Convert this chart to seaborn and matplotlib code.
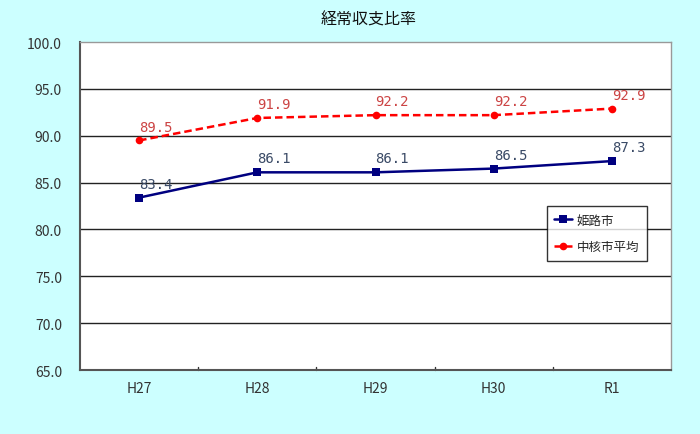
import matplotlib
matplotlib.use("Agg")
import matplotlib.pyplot as plt
import seaborn as sns
import pandas as pd

categories = ["H27", "H28", "H29", "H30", "R1"]
himeji = [83.4, 86.1, 86.1, 86.5, 87.3]
chukaku = [89.5, 91.9, 92.2, 92.2, 92.9]
series_names = ["姫路市", "中核市平均"]
yticks = [65.0, 70.0, 75.0, 80.0, 85.0, 90.0, 95.0, 100.0]

sns.set_theme(style="white")
plt.rcParams['font.family'] = ['Noto Sans CJK JP', 'DejaVu Sans']

df = pd.DataFrame({
    "year": categories * 2,
    "value": himeji + chukaku,
    "series": [series_names[0]] * 5 + [series_names[1]] * 5,
})
df["x"] = list(range(5)) * 2

bg = "#CCFFFF"
fig = plt.figure(figsize=(7, 4.35), dpi=100, facecolor=bg)
ax = fig.add_axes([0.1143, 0.147, 0.8443, 0.754])
ax.set_facecolor("white")

palette = {series_names[0]: "#000080", series_names[1]: "#FF0000"}
sns.lineplot(data=df, x="x", y="value", hue="series", style="series",
             palette=palette, markers={series_names[0]: "s", series_names[1]: "o"},
             dashes={series_names[0]: "", series_names[1]: (3, 1.6)},
             linewidth=1.8, markersize=5.5, markeredgewidth=0, ax=ax)

ax.set_xlim(-0.5, 4.5)
ax.set_ylim(65, 100)
ax.set_yticks(yticks)
ax.set_yticklabels([f"{v:.1f}" for v in yticks], fontsize=10, color="#333333")
ax.set_xticks(range(5))
ax.set_xticklabels(categories, fontsize=10, color="#333333")
ax.tick_params(axis="y", length=0, pad=13)
ax.tick_params(axis="x", length=0, pad=8)
for b in [0.5, 1.5, 2.5, 3.5]:
    ax.plot([b, b], [65, 65.35], color="#333333", lw=1, clip_on=False)
ax.set_xlabel("")
ax.set_ylabel("")
for v in yticks[1:-1]:
    ax.axhline(v, color="#222222", lw=1, zorder=0)

for s in ["left", "bottom"]:
    ax.spines[s].set_color("#555555")
    ax.spines[s].set_linewidth(1.5)
for s in ["top", "right"]:
    ax.spines[s].set_color("#999999")
    ax.spines[s].set_linewidth(1)

for i, v in enumerate(himeji):
    ax.annotate(f"{v:.1f}", (i, v), xytext=(0, 5), textcoords="offset points",
                ha="left", va="bottom", fontsize=10, color="#3A4A66",
                family=["DejaVu Sans Mono"])
for i, v in enumerate(chukaku):
    ax.annotate(f"{v:.1f}", (i, v), xytext=(0, 5), textcoords="offset points",
                ha="left", va="bottom", fontsize=10, color="#CC4444",
                family=["DejaVu Sans Mono"])

fig.text(0.526, 0.953, "経常収支比率", ha="center", va="center", fontsize=11.5, color="#111111")

leg = ax.legend(loc="upper left", bbox_to_anchor=(0.79, 0.50), frameon=True,
                fancybox=False, fontsize=9, handlelength=1.4, handletextpad=0.4,
                borderpad=0.6, labelspacing=1.1, borderaxespad=0)
leg.get_frame().set_edgecolor("black")
leg.get_frame().set_linewidth(1)

fig.savefig("out.png", dpi=100, facecolor=bg)
